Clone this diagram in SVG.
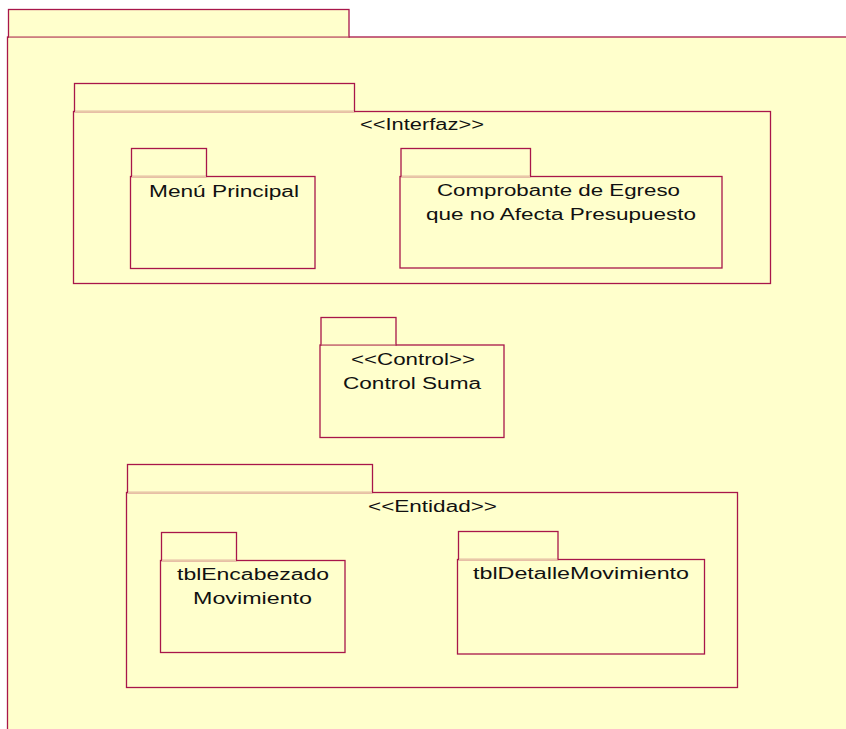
<svg xmlns="http://www.w3.org/2000/svg" width="846" height="729" viewBox="0 0 846 729">
  <style>
    .pkg { fill: #FFFFCC; stroke: #A8164A; stroke-width: 1.3; }
    .seam { stroke: #E8C9A6; stroke-width: 1; fill: none; }
    .lbl { font-family: "Liberation Sans", Arial, sans-serif; font-size: 16px; fill: #111111; }
  </style>
  <rect x="0" y="0" width="846" height="729" fill="#FFFFFF"/>

  <!-- outer package (extends past the canvas) -->
  <g id="pkg-outer">
    <rect class="pkg" x="7.5" y="37" width="860" height="720"/>
    <rect class="pkg" x="8.5" y="9.5" width="340.5" height="27.5"/>
    <line class="seam" x1="9" y1="37" x2="348.5" y2="37"/>
  </g>

  <!-- Interfaz layer -->
  <g id="pkg-interfaz">
    <rect class="pkg" x="73.5" y="111.5" width="697" height="172"/>
    <rect class="pkg" x="74.5" y="83.5" width="280" height="28"/>
    <line class="seam" x1="75" y1="111.5" x2="354" y2="111.5"/>
    <text class="lbl" x="360" y="130" textLength="124" lengthAdjust="spacingAndGlyphs">&lt;&lt;Interfaz&gt;&gt;</text>
  </g>

  <g id="pkg-menu">
    <rect class="pkg" x="130.5" y="176.5" width="184.5" height="92"/>
    <rect class="pkg" x="131.5" y="148.5" width="75" height="28"/>
    <line class="seam" x1="132" y1="176.5" x2="206" y2="176.5"/>
    <text class="lbl" x="149" y="197" textLength="150" lengthAdjust="spacingAndGlyphs">Menú Principal</text>
  </g>

  <g id="pkg-comprobante">
    <rect class="pkg" x="400" y="176.5" width="322" height="91.5"/>
    <rect class="pkg" x="401" y="148.5" width="129.5" height="28"/>
    <line class="seam" x1="401.5" y1="176.5" x2="530" y2="176.5"/>
    <text class="lbl" x="437" y="196" textLength="243" lengthAdjust="spacingAndGlyphs">Comprobante de Egreso</text>
    <text class="lbl" x="426" y="220" textLength="270" lengthAdjust="spacingAndGlyphs">que no Afecta Presupuesto</text>
  </g>

  <!-- Control -->
  <g id="pkg-control">
    <rect class="pkg" x="320" y="345" width="184" height="92.5"/>
    <rect class="pkg" x="321" y="317.5" width="75" height="27.5"/>
    <line class="seam" x1="321.5" y1="345" x2="395.5" y2="345"/>
    <text class="lbl" x="351" y="365" textLength="124" lengthAdjust="spacingAndGlyphs">&lt;&lt;Control&gt;&gt;</text>
    <text class="lbl" x="343" y="389" textLength="138" lengthAdjust="spacingAndGlyphs">Control Suma</text>
  </g>

  <!-- Entidad layer -->
  <g id="pkg-entidad">
    <rect class="pkg" x="126.5" y="492.5" width="611" height="195"/>
    <rect class="pkg" x="127.5" y="464.5" width="245" height="28"/>
    <line class="seam" x1="128" y1="492.5" x2="372" y2="492.5"/>
    <text class="lbl" x="368" y="512" textLength="129" lengthAdjust="spacingAndGlyphs">&lt;&lt;Entidad&gt;&gt;</text>
  </g>

  <g id="pkg-encabezado">
    <rect class="pkg" x="160.5" y="560.5" width="184.5" height="92"/>
    <rect class="pkg" x="161.5" y="532.5" width="75" height="28"/>
    <line class="seam" x1="162" y1="560.5" x2="236" y2="560.5"/>
    <text class="lbl" x="177" y="580" textLength="152" lengthAdjust="spacingAndGlyphs">tblEncabezado</text>
    <text class="lbl" x="193" y="604" textLength="119" lengthAdjust="spacingAndGlyphs">Movimiento</text>
  </g>

  <g id="pkg-detalle">
    <rect class="pkg" x="457.5" y="559.5" width="247" height="94.5"/>
    <rect class="pkg" x="458.5" y="531.5" width="99.5" height="28"/>
    <line class="seam" x1="459" y1="559.5" x2="557.5" y2="559.5"/>
    <text class="lbl" x="473" y="579" textLength="216" lengthAdjust="spacingAndGlyphs">tblDetalleMovimiento</text>
  </g>

  <!-- no connectors in this view -->
  <g id="connectors"/>
</svg>
